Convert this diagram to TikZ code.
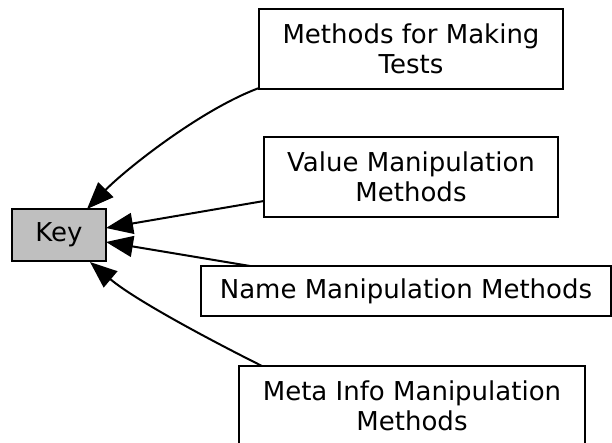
\documentclass[tikz,border=0pt]{standalone}
\usepackage{fontspec}
\setmainfont{DejaVu Sans}
\usetikzlibrary{arrows.meta}
\tikzset{
  box/.style={draw=black, line width=2pt, fill=white, inner sep=0pt,
    align=center, font=\fontsize{26}{30}\selectfont},
  keybox/.style={box, fill=black!25},
  dep/.style={line width=2pt, -{Triangle[length=27pt,width=21pt]}}
}
\begin{document}
\begin{tikzpicture}[x=1pt,y=-1pt]
  \useasboundingbox (0,0) rectangle (612,443);
  \begin{scope}
    \clip (0,0) rectangle (612,443);
    % groups
    \node[keybox, minimum width=94pt, minimum height=52pt] (key) at (59,235) {Key};
    \node[box, minimum width=304pt, minimum height=80pt] (mt) at (411,49) {Methods for Making\\Tests};
    \node[box, minimum width=294pt, minimum height=80pt] (vm) at (411,177) {Value Manipulation\\Methods};
    \node[box, minimum width=410pt, minimum height=50pt] (nm) at (406,291) {Name Manipulation Methods};
    \node[box, minimum width=346pt, minimum height=80pt] (mi) at (412,406) {Meta Info Manipulation\\Methods};
    % attachment points on the key node
    \coordinate (k1) at (87,209);
    \coordinate (k2) at (106,228);
    \coordinate (k3) at (106,242);
    \coordinate (k4) at (90,262);
    \coordinate (s1) at (259,88);
    \coordinate (s2) at (264,201);
    \coordinate (s3) at (250,266);
    \coordinate (s4) at (262,366);
    % dependencies
    \draw[dep] (s1) .. controls (200,110) and (125,170) .. (k1);
    \draw[dep] (s2) -- (k2);
    \draw[dep] (s3) -- (k3);
    \draw[dep] (s4) .. controls (210,340) and (135,300) .. (k4);
  \end{scope}
\end{tikzpicture}
\end{document}
